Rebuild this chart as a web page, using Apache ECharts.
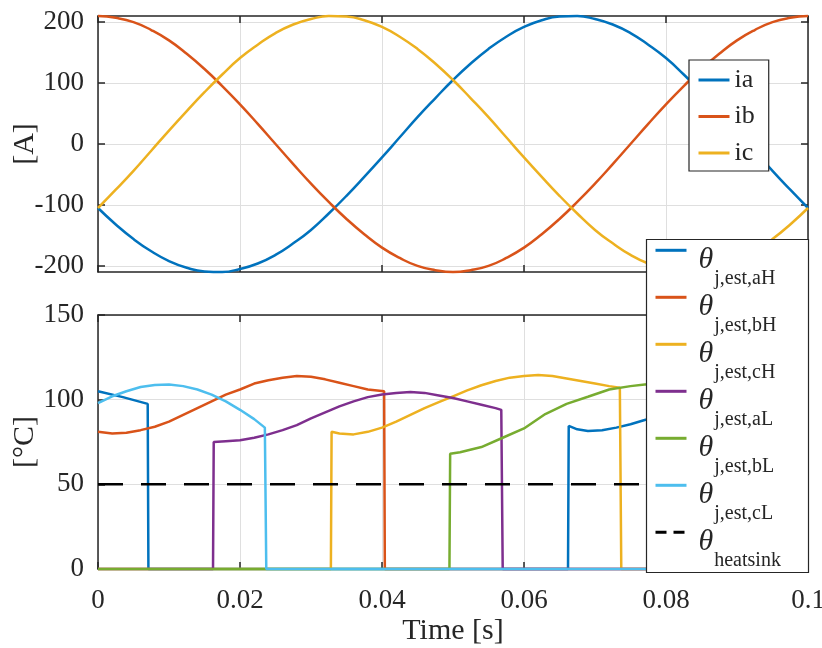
<!DOCTYPE html>
<html>
<head>
<meta charset="utf-8">
<script src="https://cdn.jsdelivr.net/npm/echarts@6/dist/echarts.min.js"></script>
<style>
html, body { margin: 0; padding: 0; background: #fff; }
#c { width: 822px; height: 648px; }
</style>
</head>
<body>
<div id="c"></div>
<script>
// Phase currents, sampled every 2.5 ms
const timeS = [0, 0.0025, 0.005, 0.0075, 0.01, 0.0125, 0.015, 0.0175, 0.02, 0.0225,
  0.025, 0.0275, 0.03, 0.0325, 0.035, 0.0375, 0.04, 0.0425, 0.045, 0.0475,
  0.05, 0.0525, 0.055, 0.0575, 0.06, 0.0625, 0.065, 0.0675, 0.07, 0.0725,
  0.075, 0.0775, 0.08, 0.0825, 0.085, 0.0875, 0.09, 0.0925, 0.095, 0.0975, 0.1];
const ia = [-105, -132, -156, -176, -192, -203, -209, -210, -205, -196,
  -182, -163, -141, -114, -85, -54, -22, 11, 44, 75,
  105, 132, 156, 176, 192, 203, 209, 210, 205, 196,
  182, 163, 141, 114, 85, 54, 22, -11, -44, -75, -105];
const ib = [210, 207, 200, 187, 170, 148, 123, 95, 65, 33,
  0, -33, -65, -95, -123, -148, -170, -187, -200, -207,
  -210, -207, -200, -187, -170, -148, -123, -95, -65, -33,
  0, 33, 65, 95, 123, 148, 170, 187, 200, 207, 210];
const ic = [-105, -75, -44, -11, 22, 54, 85, 114, 141, 163,
  182, 196, 205, 210, 209, 203, 192, 176, 156, 132,
  105, 75, 44, 11, -22, -54, -85, -114, -141, -163,
  -182, -196, -205, -210, -209, -203, -192, -176, -156, -132, -105];

// Estimated junction temperatures [time s, °C]
const thetaAH = [[0, 105], [0.0035, 101.5], [0.007, 97.5], [0.0071, 0], [0.0662, 0], [0.0663, 84.5],
  [0.0675, 82.5], [0.069, 81.5], [0.071, 82], [0.073, 83.5], [0.075, 85.5], [0.077, 88],
  [0.08, 91], [0.085, 97], [0.09, 102], [0.095, 105], [0.1, 106]];
const thetaBH = [[0, 81], [0.002, 80], [0.004, 80.5], [0.006, 82], [0.008, 84], [0.01, 87],
  [0.012, 91], [0.014, 95], [0.016, 99], [0.018, 103], [0.02, 106], [0.022, 109.5],
  [0.024, 111.5], [0.026, 113], [0.028, 114], [0.03, 113.5], [0.032, 112], [0.034, 110],
  [0.036, 108], [0.038, 106], [0.0403, 105], [0.0404, 0], [0.1, 0]];
const thetaCH = [[0, 0], [0.0328, 0], [0.0329, 81], [0.034, 80], [0.036, 79.5], [0.038, 81],
  [0.04, 83.5], [0.042, 87], [0.044, 91], [0.046, 95], [0.048, 98.5], [0.05, 102],
  [0.052, 105.5], [0.054, 108.5], [0.056, 111], [0.058, 113], [0.06, 114], [0.062, 114.5],
  [0.064, 114], [0.066, 112.5], [0.068, 111], [0.07, 109.5], [0.072, 108], [0.0735, 107],
  [0.0737, 0], [0.1, 0]];
const thetaAL = [[0, 0], [0.0162, 0], [0.0163, 75], [0.018, 75.5], [0.02, 76], [0.022, 77.5],
  [0.024, 79.5], [0.026, 82], [0.028, 85], [0.03, 89], [0.032, 92.5], [0.034, 96],
  [0.036, 99], [0.038, 101.5], [0.04, 103], [0.042, 104], [0.044, 104.5], [0.046, 104],
  [0.048, 102.5], [0.05, 101], [0.052, 99], [0.054, 97], [0.056, 95], [0.0568, 94],
  [0.057, 0], [0.1, 0]];
const thetaBL = [[0, 0], [0.0495, 0], [0.0496, 68], [0.051, 69], [0.054, 72], [0.057, 77.5],
  [0.06, 83], [0.063, 91.5], [0.066, 97.5], [0.069, 101.7], [0.072, 106], [0.075, 108],
  [0.077, 109], [0.08, 109.5], [0.085, 108], [0.0903, 105], [0.0905, 0], [0.1, 0]];
const thetaCL = [[0, 98], [0.002, 102], [0.004, 105], [0.006, 107.5], [0.008, 108.7], [0.01, 109],
  [0.012, 108], [0.014, 106], [0.016, 103], [0.018, 99], [0.02, 94], [0.022, 88.5],
  [0.0235, 83.5], [0.0237, 0], [0.1, 0]];
const thetaHeatsink = [[0, 50], [0.1, 50]];

const currentTicks = [-200, -100, 0, 100, 200];
const tempTicks = [0, 50, 100, 150];

const font = 'Liberation Serif';
const axisColor = '#262626';
const gridColor = '#dfdfdf';
const colors = {
  a: '#0072BD', b: '#D95319', c: '#EDB120',
  aL: '#7E2F8E', bL: '#77AC30', cL: '#4DBEEE'
};

const zip = (xs, ys) => xs.map((x, i) => [x, ys[i]]);

function xAxisFor(gi, pos, labels, name) {
  return {
    type: 'value', gridIndex: gi, position: pos, min: 0, max: 0.1, interval: 0.02,
    axisLine: { show: true, onZero: false, lineStyle: { color: axisColor, width: 1.5 } },
    axisTick: { show: true, inside: true, length: 7, lineStyle: { color: axisColor, width: 1.5 } },
    axisLabel: { show: labels, color: axisColor, fontFamily: font, fontSize: 27, margin: 18 },
    splitLine: { show: pos === 'bottom', lineStyle: { color: gridColor, width: 1 } },
    name: name || '', nameLocation: 'middle', nameGap: 47, nameMoveOverlap: false,
    nameTextStyle: { color: axisColor, fontFamily: font, fontSize: 30 }
  };
}

function yAxisFor(gi, pos, min, max, ticks, name) {
  const left = pos === 'left';
  return {
    type: 'value', gridIndex: gi, position: pos, min: min, max: max,
    axisLine: { show: true, onZero: false, lineStyle: { color: axisColor, width: 1.5 } },
    axisTick: { show: true, inside: true, length: 7, customValues: ticks,
      lineStyle: { color: axisColor, width: 1.5 } },
    axisLabel: { show: left, customValues: ticks, color: axisColor, fontFamily: font,
      fontSize: 27, margin: 14 },
    splitLine: { show: left, lineStyle: { color: gridColor, width: 1 } },
    name: name || '', nameLocation: 'middle', nameGap: 58, nameMoveOverlap: false,
    nameTextStyle: { color: axisColor, fontFamily: font, fontSize: 30 }
  };
}

const lineBase = { type: 'line', showSymbol: false, symbol: 'none', clip: false, animation: false };

function currentSeries(name, values, color) {
  return Object.assign({}, lineBase, {
    name: name, xAxisIndex: 0, yAxisIndex: 0, smooth: true,
    data: zip(timeS, values),
    itemStyle: { color: color }, lineStyle: { color: color, width: 2.5 }
  });
}

function tempSeries(name, data, color, dash) {
  return Object.assign({}, lineBase, {
    name: name, xAxisIndex: 2, yAxisIndex: 2, data: data,
    itemStyle: { color: color },
    lineStyle: { color: color, width: 2.5, type: dash || 'solid' }
  });
}

const option = {
  backgroundColor: '#fff',
  animation: false,
  grid: [
    { left: 98, right: 14, top: 16, height: 256, containLabel: false, outerBoundsMode: 'none' },
    { left: 98, right: 14, top: 315, height: 254, containLabel: false, outerBoundsMode: 'none' }
  ],
  xAxis: [
    xAxisFor(0, 'bottom', false),
    xAxisFor(0, 'top', false),
    xAxisFor(1, 'bottom', true, 'Time [s]'),
    xAxisFor(1, 'top', false)
  ],
  yAxis: [
    yAxisFor(0, 'left', -210, 210, currentTicks, '[A]'),
    yAxisFor(0, 'right', -210, 210, currentTicks),
    yAxisFor(1, 'left', 0, 150, tempTicks, '[°C]'),
    yAxisFor(1, 'right', 0, 150, tempTicks)
  ],
  legend: [
    {
      data: ['ia', 'ib', 'ic'],
      orient: 'vertical', left: 689, top: 60,
      padding: [5, 14, 3, 8], itemGap: 6.5,
      itemWidth: 31, itemHeight: 14,
      backgroundColor: '#fff', borderColor: axisColor, borderWidth: 1.2,
      selectedMode: false,
      itemStyle: { opacity: 0 },
      lineStyle: { width: 3 },
      textStyle: { color: axisColor, fontFamily: font, fontSize: 26, lineHeight: 30 }
    },
    {
      data: ['aH', 'bH', 'cH', 'aL', 'bL', 'cL',
        { name: 'heatsink', lineStyle: { type: [11, 7] } }],
      orient: 'vertical', left: 654, top: 236.3,
      zlevel: 1, z: 10,
      padding: 0, itemGap: -5,
      itemWidth: 31, itemHeight: 14,
      selectedMode: false,
      itemStyle: { opacity: 0 },
      lineStyle: { width: 3 },
      formatter: function (name) {
        return name === 'heatsink' ? '{t|θ}{s|heatsink}' : '{t|θ}{s|j,est,' + name + '}';
      },
      textStyle: {
        color: axisColor, fontFamily: font,
        rich: {
          t: { fontFamily: font, fontStyle: 'italic', fontSize: 30, lineHeight: 28,
            padding: [9, 0, 0, 7], verticalAlign: 'top', color: axisColor },
          s: { fontFamily: font, fontSize: 20, lineHeight: 20,
            padding: [32, 0, 0, 1], verticalAlign: 'top', color: axisColor }
        }
      }
    }
  ],
  graphic: [
    {
      type: 'rect', zlevel: 1, z: 0, silent: true,
      shape: { x: 646.5, y: 239.5, width: 162, height: 333 },
      style: { fill: '#fff', stroke: axisColor, lineWidth: 1.2 }
    }
  ],
  series: [
    currentSeries('ia', ia, colors.a),
    currentSeries('ib', ib, colors.b),
    currentSeries('ic', ic, colors.c),
    tempSeries('aH', thetaAH, colors.a),
    tempSeries('bH', thetaBH, colors.b),
    tempSeries('cH', thetaCH, colors.c),
    tempSeries('aL', thetaAL, colors.aL),
    tempSeries('bL', thetaBL, colors.bL),
    tempSeries('cL', thetaCL, colors.cL),
    tempSeries('heatsink', thetaHeatsink, '#000000', [25, 18])
  ]
};

const chart = echarts.init(document.getElementById('c'));
chart.setOption(option);
</script>
</body>
</html>
